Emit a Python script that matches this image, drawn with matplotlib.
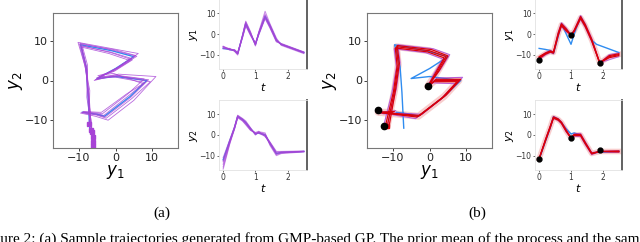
import matplotlib
matplotlib.use("Agg")
import matplotlib.pyplot as plt

# prior mean (keypoints in t)
t_mean = [0.0, 0.2, 0.35, 0.45, 0.6, 0.7, 0.85, 1.0, 1.1, 1.3, 1.45, 1.65, 1.8, 2.5]
mean_y1 = [-7, -7.5, -8, -9.5, -1, 5, 0, -5, 0, 8.5, 4, -3, -5, -9]
mean_y2 = [-12, -3, 3.5, 9, 7.5, 6, 3, 0.5, 1, 0, -4, -9, -8.5, -8]

# prior samples (a)
samples_y1 = [
    [-6.5, -7.2, -8.2, -9.8, -0.5, 5.5, 0.5, -5.5, 0.5, 9.5, 4.5, -2.5, -5.2, -9.2],
    [-6.0, -7.8, -7.6, -9.0, -1.5, 4.2, -0.5, -4.6, -0.3, 7.8, 3.2, -3.6, -4.8, -8.8],
    [-7.2, -7.0, -8.4, -10.2, -0.8, 6.2, 1.0, -5.8, 0.8, 11.0, 5.0, -2.0, -5.5, -9.5],
    [-6.2, -7.4, -7.9, -9.3, -1.2, 4.6, -0.2, -4.3, 0.2, 8.0, 3.6, -3.2, -4.9, -8.9],
    [-6.8, -7.6, -8.1, -9.6, -0.6, 5.8, 0.6, -5.2, 0.4, 9.0, 4.2, -2.8, -5.1, -9.1],
    [-6.0, -7.3, -7.7, -9.2, -1.8, 4.0, -0.8, -4.8, -0.6, 7.5, 3.0, -3.8, -4.6, -8.7],
]
samples_y2 = [
    [-13.0, -3.5, 3.2, 9.2, 7.8, 6.3, 3.2, 0.2, 1.2, -0.3, -4.5, -9.5, -8.7, -8.1],
    [-15.5, -4.2, 3.8, 8.6, 7.2, 5.6, 2.6, 0.8, 1.4, 0.4, -3.5, -8.4, -8.2, -7.9],
    [-11.0, -2.5, 4.0, 9.6, 8.0, 6.8, 3.5, 0.0, 1.6, 1.0, -5.0, -10.0, -9.0, -8.2],
    [-14.2, -3.8, 3.0, 8.8, 7.0, 5.2, 2.4, 1.0, 0.8, -0.5, -3.8, -8.8, -8.4, -8.0],
    [-12.5, -2.8, 3.6, 9.4, 7.6, 6.1, 3.1, 0.6, 1.1, 0.2, -4.2, -9.2, -8.6, -8.0],
    [-16.5, -4.5, 2.8, 8.4, 6.8, 5.0, 2.2, 1.2, 1.8, -0.8, -3.4, -8.0, -8.0, -7.8],
]

# conditioned on via points (b)
via_t = [0.0, 1.0, 1.9]
via_y1 = [-12.5, -0.5, -14.0]
via_y2 = [-11.5, -1.5, -7.5]
t_cond = [0.0, 0.2, 0.35, 0.45, 0.6, 0.7, 0.85, 1.0, 1.1, 1.3, 1.45, 1.65, 1.9, 2.2, 2.5]
red_y1 = [
    [-11.5, -9.5, -8.5, -9.0, 0.0, 4.5, 2.0, -0.5, 1.5, 8.0, 4.0, -3.0, -14.0, -11.0, -10.0],
    [-11.0, -9.2, -8.2, -8.8, 0.5, 5.0, 2.5, -0.5, 1.8, 8.5, 4.5, -2.6, -14.0, -11.5, -10.5],
    [-12.0, -9.8, -8.8, -9.3, -0.5, 4.0, 1.5, -0.5, 1.2, 7.5, 3.5, -3.4, -14.0, -10.5, -9.6],
]
red_y2 = [
    [-11.5, -2.5, 4.0, 8.5, 7.5, 6.0, 2.0, -1.5, 0.0, 0.0, -4.0, -9.0, -8.0, -8.0, -8.0],
    [-11.5, -2.2, 4.3, 8.8, 7.8, 6.2, 2.3, -1.5, 0.3, 0.3, -3.7, -8.8, -8.0, -8.1, -8.2],
    [-11.5, -2.8, 3.7, 8.2, 7.2, 5.7, 1.7, -1.5, -0.3, -0.3, -4.3, -9.2, -8.0, -7.9, -7.8],
]
purple_y1 = [
    [-11.5, -9.0, -8.0, -8.6, 1.0, 5.5, 3.0, -0.5, 2.0, 9.0, 5.0, -2.0, -14.0, -12.5, -11.0],
    [-12.5, -10.2, -9.0, -9.6, -1.0, 3.6, 1.0, -0.5, 1.0, 7.0, 3.0, -3.8, -14.0, -10.0, -9.2],
]
purple_y2 = [
    [-11.5, -2.0, 4.5, 9.0, 8.0, 6.5, 2.8, -1.5, 0.6, 0.8, -3.2, -8.5, -8.0, -8.4, -8.4],
    [-11.5, -3.0, 3.4, 8.0, 7.0, 5.4, 1.4, -1.5, -0.6, -0.8, -4.8, -9.6, -8.0, -7.7, -7.6],
]

PURPLE = "#a743d6"
BLUE = "#2f8cf0"
RED = "#d8000c"
PINK = "#f6b9b9"

W, H = 640, 242
fig = plt.figure(figsize=(W / 100, H / 100), dpi=100)


def box(x0, y0, x1, y1):
    return fig.add_axes([x0 / W, 1 - y1 / H, (x1 - x0) / W, (y1 - y0) / H])


def big_style(ax):
    ax.set_xlim(-17, 17)
    ax.set_ylim(-17, 17)
    ax.set_xticks([-10, 0, 10])
    ax.set_yticks([-10, 0, 10])
    ax.tick_params(labelsize=8, length=2, width=0.6, pad=1.5, colors="#222")
    for s in ax.spines.values():
        s.set_color("#777")
        s.set_linewidth(0.8)
    ax.set_xlabel("$y_1$", fontsize=12, labelpad=0)
    ax.set_ylabel("$y_2$", fontsize=12, labelpad=0)


def small_style(ax, lab):
    ax.set_xlim(-0.13, 2.6)
    ax.set_ylim(-17, 17)
    ax.set_xticks([0, 1, 2])
    ax.set_yticks([-10, 0, 10])
    ax.tick_params(labelsize=5.5, length=1.5, width=0.5, pad=1, colors="#333")
    for s in ax.spines.values():
        s.set_color("#e2e2e2")
        s.set_linewidth(0.6)
    ax.spines["right"].set_color("#555")
    ax.spines["right"].set_linewidth(1.3)
    ax.set_xlabel("$t$", fontsize=8, labelpad=0)
    ax.set_ylabel(lab, fontsize=8, labelpad=0)


# ---- (a) ----
ax = box(53, 13, 178, 148)
ax.plot(mean_y1, mean_y2, color=BLUE, lw=1.0)
for a, b in zip(samples_y1, samples_y2):
    ax.plot(a, b, color=PURPLE, lw=0.6, alpha=0.8)
    ax.plot(a[0], b[0], "s", color=PURPLE, ms=3)
big_style(ax)

for y0, y1, lab, data, mean in [
        (-1, 69, "$y_1$", samples_y1, mean_y1),
        (100, 170, "$y_2$", samples_y2, mean_y2)]:
    ax = box(219, y0, 307, y1)
    ax.plot(t_mean, mean, color=BLUE, lw=1.0)
    for s in data:
        ax.plot(t_mean, s, color=PURPLE, lw=0.8, alpha=0.6)
    small_style(ax, lab)

# ---- (b) ----
ax = box(367, 13, 492, 148)
ax.plot(red_y1[0], red_y2[0], color=PINK, lw=5, alpha=0.7, solid_capstyle="round")
ax.plot(mean_y1, mean_y2, color=BLUE, lw=1.0)
for a, b in zip(purple_y1, purple_y2):
    ax.plot(a, b, color=PURPLE, lw=0.8, alpha=0.8)
for a, b in zip(red_y1, red_y2):
    ax.plot(a, b, color=RED, lw=0.9)
ax.plot(red_y1[0][0], red_y2[0][0], "s", color=RED, ms=3)
ax.plot(via_y1, via_y2, "o", color="black", ms=4.5)
big_style(ax)

for y0, y1, lab, reds, purples, mean, via in [
        (-1, 69, "$y_1$", red_y1, purple_y1, mean_y1, via_y1),
        (100, 170, "$y_2$", red_y2, purple_y2, mean_y2, via_y2)]:
    ax = box(535, y0, 622, y1)
    ax.plot(t_cond, reds[0], color=PINK, lw=4, alpha=0.7)
    ax.plot(t_mean, mean, color=BLUE, lw=1.0)
    for s in purples:
        ax.plot(t_cond, s, color=PURPLE, lw=0.8, alpha=0.7)
    for s in reds:
        ax.plot(t_cond, s, color=RED, lw=0.9)
    ax.plot(via_t, via, "o", color="black", ms=3.5)
    small_style(ax, lab)

# ---- captions ----
serif = "Liberation Serif"
fig.text(162 / W, 1 - 213 / H, "(a)", ha="center", va="center", fontsize=11, family=serif)
fig.text(477 / W, 1 - 213 / H, "(b)", ha="center", va="center", fontsize=11, family=serif)

caption = ("Figure 2: (a) Sample trajectories generated from GMP-based GP. "
           "The prior mean of the process and the sam")
probe = fig.text(0, 0, "Fig", fontsize=11, family=serif)
fig.canvas.draw()
shift = probe.get_window_extent().width
probe.remove()
fig.text(-shift / W, 1 - 243 / H, caption, ha="left", va="baseline", fontsize=11, family=serif)

fig.savefig("out.png", dpi=100)
